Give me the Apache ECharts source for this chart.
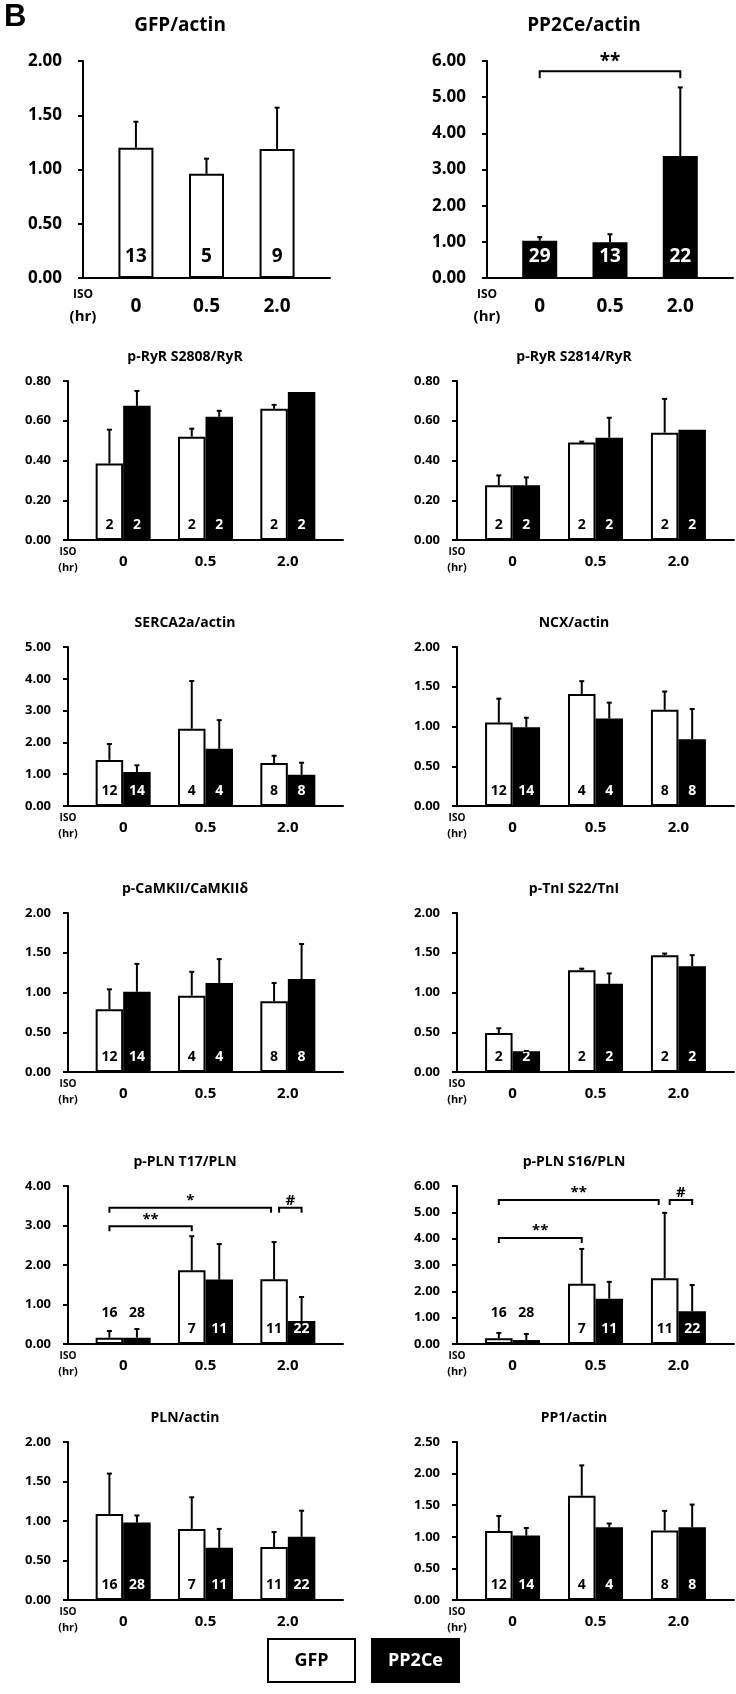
<!DOCTYPE html>
<html><head><meta charset="utf-8">
<script src="https://cdn.jsdelivr.net/npm/echarts@6/dist/echarts.min.js"></script>
<style>html,body{margin:0;padding:0;background:#fff}#c{width:736px;height:1694px}</style>
</head><body><div id="c"></div>
<script>
// ---------- data ----------
const groups = ['0', '0.5', '2.0'];

const gfpActinMean = [1.20, 0.96, 1.19];
const gfpActinErr  = [0.24, 0.14, 0.38];
const gfpActinN    = [13, 5, 9];

const pp2ceActinMean = [1.03, 0.99, 3.37];
const pp2ceActinErr  = [0.10, 0.22, 1.90];
const pp2ceActinN    = [29, 13, 22];

const ryr2808GfpMean = [0.385, 0.52, 0.66];
const ryr2808GfpErr  = [0.17, 0.04, 0.02];
const ryr2808PpMean  = [0.675, 0.62, 0.745];
const ryr2808PpErr   = [0.075, 0.03, 0];
const ryr2808GfpN    = [2, 2, 2];
const ryr2808PpN     = [2, 2, 2];

const ryr2814GfpMean = [0.275, 0.49, 0.54];
const ryr2814GfpErr  = [0.05, 0.005, 0.17];
const ryr2814PpMean  = [0.275, 0.515, 0.555];
const ryr2814PpErr   = [0.04, 0.10, 0.003];
const ryr2814GfpN    = [2, 2, 2];
const ryr2814PpN     = [2, 2, 2];

const sercaGfpMean = [1.45, 2.43, 1.35];
const sercaGfpErr  = [0.50, 1.50, 0.23];
const sercaPpMean  = [1.07, 1.80, 0.98];
const sercaPpErr   = [0.21, 0.90, 0.38];
const sercaGfpN    = [12, 4, 8];
const sercaPpN     = [14, 4, 8];

const ncxGfpMean = [1.05, 1.41, 1.21];
const ncxGfpErr  = [0.30, 0.16, 0.23];
const ncxPpMean  = [0.99, 1.10, 0.84];
const ncxPpErr   = [0.12, 0.20, 0.38];
const ncxGfpN    = [12, 4, 8];
const ncxPpN     = [14, 4, 8];

const camkGfpMean = [0.79, 0.96, 0.89];
const camkGfpErr  = [0.25, 0.30, 0.23];
const camkPpMean  = [1.01, 1.12, 1.17];
const camkPpErr   = [0.35, 0.30, 0.44];
const camkGfpN    = [12, 4, 8];
const camkPpN     = [14, 4, 8];

const tniGfpMean = [0.49, 1.28, 1.47];
const tniGfpErr  = [0.06, 0.02, 0.02];
const tniPpMean  = [0.26, 1.11, 1.33];
const tniPpErr   = [0.005, 0.13, 0.14];
const tniGfpN    = [2, 2, 2];
const tniPpN     = [2, 2, 2];

const t17GfpMean = [0.16, 1.87, 1.64];
const t17GfpErr  = [0.17, 0.86, 0.94];
const t17PpMean  = [0.16, 1.63, 0.58];
const t17PpErr   = [0.22, 0.90, 0.61];
const t17GfpN    = [16, 7, 11];
const t17PpN     = [28, 11, 22];

const s16GfpMean = [0.22, 2.29, 2.50];
const s16GfpErr  = [0.20, 1.32, 2.48];
const s16PpMean  = [0.15, 1.72, 1.24];
const s16PpErr   = [0.23, 0.64, 1.00];
const s16GfpN    = [16, 7, 11];
const s16PpN     = [28, 11, 22];

const plnGfpMean = [1.09, 0.90, 0.67];
const plnGfpErr  = [0.51, 0.40, 0.19];
const plnPpMean  = [0.98, 0.66, 0.80];
const plnPpErr   = [0.09, 0.24, 0.33];
const plnGfpN    = [16, 7, 11];
const plnPpN     = [28, 11, 22];

const pp1GfpMean = [1.09, 1.65, 1.10];
const pp1GfpErr  = [0.24, 0.48, 0.31];
const pp1PpMean  = [1.02, 1.15, 1.15];
const pp1PpErr   = [0.12, 0.06, 0.36];
const pp1GfpN    = [12, 4, 8];
const pp1PpN     = [14, 4, 8];

// significance annotations: from/to = [group index, series index (null = single series)]
const pp2ceSig = [{from: [0, null], to: [2, null], y: 5.72, text: '**'}];
const t17Sig = [
  {from: [0, 0], to: [1, 0], y: 2.98, text: '**'},
  {from: [0, 0], to: [2, 0], y: 3.45, text: '*', gapB: -3},
  {from: [2, 0], to: [2, 1], y: 3.45, text: '#', gapA: 5}
];
const s16Sig = [
  {from: [0, 0], to: [1, 0], y: 4.03, text: '**'},
  {from: [0, 0], to: [2, 0], y: 5.47, text: '**', gapB: -6},
  {from: [2, 0], to: [2, 1], y: 5.47, text: '#', gapA: 5}
];

// ---------- panels ----------
const S = (name, mean, err, n) => ({name, mean, err, n});
const panels = [
  {title: 'GFP/actin', row: 0, col: 0, big: true, max: 2, step: 0.5, series: [S('GFP', gfpActinMean, gfpActinErr, gfpActinN)]},
  {title: 'PP2Ce/actin', row: 0, col: 1, big: true, max: 6, step: 1, series: [S('PP2Ce', pp2ceActinMean, pp2ceActinErr, pp2ceActinN)], sig: pp2ceSig},
  {title: 'p-RyR S2808/RyR', row: 1, col: 0, max: 0.8, step: 0.2, series: [S('GFP', ryr2808GfpMean, ryr2808GfpErr, ryr2808GfpN), S('PP2Ce', ryr2808PpMean, ryr2808PpErr, ryr2808PpN)]},
  {title: 'p-RyR S2814/RyR', row: 1, col: 1, max: 0.8, step: 0.2, series: [S('GFP', ryr2814GfpMean, ryr2814GfpErr, ryr2814GfpN), S('PP2Ce', ryr2814PpMean, ryr2814PpErr, ryr2814PpN)]},
  {title: 'SERCA2a/actin', row: 2, col: 0, max: 5, step: 1, series: [S('GFP', sercaGfpMean, sercaGfpErr, sercaGfpN), S('PP2Ce', sercaPpMean, sercaPpErr, sercaPpN)]},
  {title: 'NCX/actin', row: 2, col: 1, max: 2, step: 0.5, series: [S('GFP', ncxGfpMean, ncxGfpErr, ncxGfpN), S('PP2Ce', ncxPpMean, ncxPpErr, ncxPpN)]},
  {title: 'p-CaMKII/CaMKIIδ', row: 3, col: 0, max: 2, step: 0.5, series: [S('GFP', camkGfpMean, camkGfpErr, camkGfpN), S('PP2Ce', camkPpMean, camkPpErr, camkPpN)]},
  {title: 'p-TnI S22/TnI', row: 3, col: 1, max: 2, step: 0.5, series: [S('GFP', tniGfpMean, tniGfpErr, tniGfpN), S('PP2Ce', tniPpMean, tniPpErr, tniPpN)]},
  {title: 'p-PLN T17/PLN', row: 4, col: 0, max: 4, step: 1, series: [S('GFP', t17GfpMean, t17GfpErr, t17GfpN), S('PP2Ce', t17PpMean, t17PpErr, t17PpN)], sig: t17Sig},
  {title: 'p-PLN S16/PLN', row: 4, col: 1, max: 6, step: 1, series: [S('GFP', s16GfpMean, s16GfpErr, s16GfpN), S('PP2Ce', s16PpMean, s16PpErr, s16PpN)], sig: s16Sig},
  {title: 'PLN/actin', row: 5, col: 0, max: 2, step: 0.5, series: [S('GFP', plnGfpMean, plnGfpErr, plnGfpN), S('PP2Ce', plnPpMean, plnPpErr, plnPpN)]},
  {title: 'PP1/actin', row: 5, col: 1, max: 2.5, step: 0.5, series: [S('GFP', pp1GfpMean, pp1GfpErr, pp1GfpN), S('PP2Ce', pp1PpMean, pp1PpErr, pp1PpN)]}
];

// ---------- layout ----------
const FONT = '"Open Sans", "Liberation Sans", sans-serif';
const rowTop = [61, 381, 647, 913, 1186, 1442];
const rowH   = [217, 159, 159, 159, 158, 158];
const bigLeft = [83, 487], bigW = [247, 246];
const smallLeft = [68, 457], smallW = [275, 277];

const legendBox = {width: 85, height: 41, align: 'center', verticalAlign: 'middle', borderColor: '#000', borderWidth: 2,
                   fontSize: 18, fontWeight: 'bold', fontFamily: FONT};

const option = {
  animation: false,
  backgroundColor: '#fff',
  textStyle: {fontFamily: FONT},
  grid: [], xAxis: [], yAxis: [], series: [],
  graphic: [{type: 'text', left: 4, top: 2, style: {text: 'B', font: 'bold 31px "Liberation Sans", sans-serif', fill: '#000'}}],
  legend: {
    left: 264, top: 1638, padding: 0, icon: 'none', itemWidth: 0, itemHeight: 0, itemGap: 12, selectedMode: false,
    data: ['GFP', 'PP2Ce'],
    formatter: name => (name === 'GFP' ? '{g|GFP}' : '{p|PP2Ce}'),
    textStyle: {rich: {
      g: Object.assign({}, legendBox, {color: '#000', backgroundColor: '#fff'}),
      p: Object.assign({}, legendBox, {color: '#fff', backgroundColor: '#000'})
    }}
  }
};

const txt = (x, y, text, font) => ({type: 'text', x, y, silent: true, style: {text, font, fill: '#000', align: 'center', verticalAlign: 'middle', textAlign: 'center', textVerticalAlign: 'middle'}});

panels.forEach((p, k) => {
  const big = !!p.big;
  const left = big ? bigLeft[p.col] : smallLeft[p.col];
  const w = big ? bigW[p.col] : smallW[p.col];
  const top = rowTop[p.row], h = rowH[p.row];
  const margin = big ? 0.75 : 0.67;
  const bw = big ? 35 : 27.5;
  const paired = p.series.length === 2;

  option.grid.push({left, top, width: w, height: h, outerBoundsMode: 'none'});
  option.xAxis.push({
    gridIndex: k, type: 'value', min: -margin, max: 2 + margin,
    axisLine: {show: true, onZero: false, lineStyle: {color: '#000', width: 2}},
    axisTick: {show: false}, splitLine: {show: false},
    axisLabel: {customValues: [0, 1, 2], formatter: v => groups[Math.round(v)], color: '#000', fontWeight: 'bold', fontFamily: FONT, fontSize: big ? 19 : 15, margin: big ? 19 : 14}
  });
  option.yAxis.push({
    gridIndex: k, type: 'value', min: 0, max: p.max, interval: p.step,
    axisLine: {show: true, onZero: false, lineStyle: {color: '#000', width: 2}},
    axisTick: {show: true, inside: false, length: 5, lineStyle: {color: '#000', width: 2}},
    splitLine: {show: false},
    axisLabel: {formatter: v => v.toFixed(2), color: '#000', fontWeight: 'bold', fontFamily: FONT, fontSize: big ? 17 : 13, margin: big ? 21 : 17}
  });

  // panel title and ISO (hr) captions
  option.graphic.push(txt(left + (big ? 97 : 117), top - (big ? 35 : 24), p.title, `bold ${big ? 19 : 14}px ${FONT}`));
  option.graphic.push(txt(left, top + h + (big ? 17 : 12), 'ISO', `bold ${big ? 12 : 10}px ${FONT}`));
  option.graphic.push(txt(left, top + h + (big ? 39 : 28), '(hr)', `bold ${big ? 15 : 11}px ${FONT}`));

  p.series.forEach((s, si) => {
    const sign = paired ? (si === 0 ? -1 : 1) : 0;
    const isGfp = s.name === 'GFP';
    option.series.push({
      type: 'bar', name: s.name, xAxisIndex: k, yAxisIndex: k,
      barWidth: bw, barGap: '0%', z: 2,
      itemStyle: {color: isGfp ? '#fff' : '#000', borderColor: '#000', borderWidth: 2},
      label: {show: true, position: 'insideBottom', distance: big ? 12 : 8, formatter: pr => String(s.n[pr.dataIndex]),
              color: isGfp ? '#000' : '#fff', fontWeight: 'bold', fontFamily: FONT, fontSize: big ? 19 : 14},
      data: s.mean.map((v, i) => {
        const item = {value: [i, v]};
        if (v / p.max < 0.08) item.label = {offset: [0, -16], color: '#000'};
        return item;
      })
    });
    option.series.push({
      type: 'custom', xAxisIndex: k, yAxisIndex: k, z: 3, silent: true,
      data: s.mean.map((v, i) => [i, v, s.err[i]]),
      renderItem: (params, api) => {
        const i = api.value(0), v = api.value(1), e = api.value(2);
        if (!(e > 0.004)) return null;
        const b = api.coord([i, v]), t = api.coord([i, v + e]);
        const x = b[0] + sign * bw / 2;
        return {type: 'group', children: [
          {type: 'line', shape: {x1: x, y1: b[1], x2: x, y2: t[1]}, style: {stroke: '#000', lineWidth: 2}},
          {type: 'line', shape: {x1: x - 2.5, y1: t[1], x2: x + 2.5, y2: t[1]}, style: {stroke: '#000', lineWidth: 2}}
        ]};
      }
    });
  });

  if (p.sig) {
    const half = bw / 2;
    const side = si => (si === null ? 0 : (si === 0 ? -1 : 1));
    option.series.push({
      type: 'custom', xAxisIndex: k, yAxisIndex: k, z: 4, silent: true,
      data: p.sig.map(a => [a.from[0], a.to[0], a.y]),
      renderItem: (params, api) => {
        const a = p.sig[params.dataIndex];
        const pa = api.coord([a.from[0], a.y]), pb = api.coord([a.to[0], a.y]);
        const xa = pa[0] + side(a.from[1]) * half + (a.gapA || 0);
        const xb = pb[0] + side(a.to[1]) * half + (a.gapB || 0);
        const y = pa[1], tick = big ? 7 : 5;
        return {type: 'group', children: [
          {type: 'polyline', shape: {points: [[xa, y + tick], [xa, y], [xb, y], [xb, y + tick]]}, style: {stroke: '#000', fill: null, lineWidth: 2}},
          {type: 'text', x: (xa + xb) / 2, y: y - (big ? 10 : 7), style: {text: a.text, fill: '#000', font: `bold ${big ? 19 : 15}px ${FONT}`, align: 'center', verticalAlign: 'middle', textAlign: 'center', textVerticalAlign: 'middle'}}
        ]};
      }
    });
  }
});

const chart = echarts.init(document.getElementById('c'), null, {renderer: 'canvas', width: 736, height: 1694});
chart.setOption(option);
</script></body></html>
